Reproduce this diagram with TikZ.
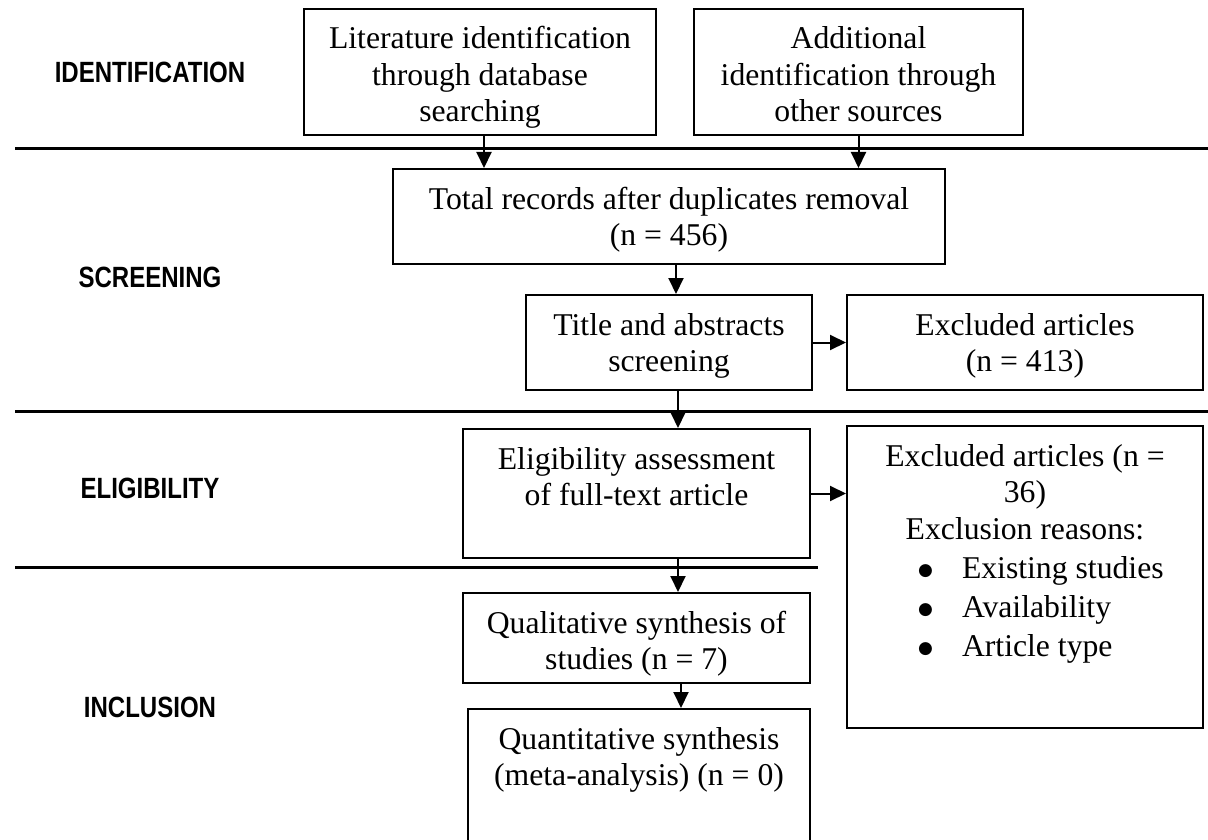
\documentclass[tikz,border=0pt]{standalone}
\usepackage{fontspec}
\setmainfont{Liberation Serif}
\newfontfamily\labelfont{Liberation Sans}[FakeStretch=0.82]
\newfontfamily\symfont{DejaVu Sans}
\usetikzlibrary{arrows.meta}
\newcommand{\bt}[3]{\parbox[t][#2pt][t]{#1pt}{\centering\rule{0pt}{40pt}#3}}
\newcommand{\blt}{\hspace*{70pt}\makebox[45pt][l]{\hspace*{1pt}\raisebox{3pt}{\symfont\fontsize{17}{20}\selectfont ●}}}
\tikzset{
  pbox/.style={draw, line width=2pt, inner sep=0pt, anchor=north west,
    font=\fontsize{31.7}{36.5}\selectfont},
  arr/.style={line width=2pt, -{Triangle[width=15pt,length=16pt]}},
  divider/.style={line width=3pt},
  phase/.style={anchor=base, inner sep=0pt, font=\labelfont\bfseries\fontsize{29.3}{34}\selectfont}
}
\begin{document}
\begin{tikzpicture}[x=1pt,y=-1pt]
\clip (0,0) rectangle (1208,840);
\fill[white] (0,0) rectangle (1208,840);
% phase labels
\node[phase] (lid) at (150,83) {IDENTIFICATION};
\node[phase] (lsc) at (150,287) {SCREENING};
\node[phase] (lel) at (150,498) {ELIGIBILITY};
\node[phase] (lin) at (150,717) {INCLUSION};
% dividers
\coordinate (d1a) at (15,149); \coordinate (d1b) at (1208,149);
\coordinate (d2a) at (15,411); \coordinate (d2b) at (1208,411);
\coordinate (d3a) at (15,567); \coordinate (d3b) at (818,567);
\draw[divider] (d1a) -- (d1b);
\draw[divider] (d2a) -- (d2b);
\draw[divider] (d3a) -- (d3b);
% boxes
\node[pbox] (A) at (303,8) {\bt{352}{126}{Literature identification\\ through database\\ searching}};
\node[pbox] (B) at (693,8) {\bt{329}{126}{Additional\\ identification through\\ other sources}};
\node[pbox] (C) at (392,168) {\bt{552}{95}{Total records after duplicates removal\\ (n = 456)}};
\node[pbox] (D) at (525,294) {\bt{286}{95}{Title and abstracts\\ screening}};
\node[pbox] (E) at (846,294) {\bt{356}{95}{Excluded articles\\ (n = 413)}};
\node[pbox] (F) at (462,428) {\bt{347}{129}{Eligibility assessment\\ of full-text article}};
\node[pbox] (G) at (846,425) {\parbox[t][302pt][t]{356pt}{\centering\rule{0pt}{40pt}Excluded articles (n =\\ 36)\\ Exclusion reasons:\par
  \raggedright\vspace{2.5pt}\blt Existing studies\\[2.5pt]
  \blt Availability\\[2.5pt]
  \blt Article type\par}};
\node[pbox] (H) at (462,592) {\bt{347}{90}{Qualitative synthesis of\\ studies (n = 7)}};
\node[pbox] (I) at (467,708) {\bt{342}{150}{Quantitative synthesis\\ (meta-analysis) (n = 0)}};
% connectors
\draw[arr] ([xshift=4pt]A.south) -- ([xshift=4pt]A.south |- C.north);
\draw[arr] (B.south) -- (B.south |- C.north);
\draw[arr] ([xshift=7pt]C.south) -- ([xshift=7pt]C.south |- D.north);
\draw[arr] (D.east) -- (D.east -| E.west);
\draw[arr] ([xshift=9pt]D.south) -- ([xshift=9pt]D.south |- F.north);
\draw[arr] (F.east) -- (F.east -| G.west);
\draw[arr] ([xshift=41.5pt]F.south) -- ([xshift=41.5pt]F.south |- H.north);
\draw[arr] ([xshift=44.5pt]H.south) -- ([xshift=44.5pt]H.south |- I.north);
\end{tikzpicture}
\end{document}
